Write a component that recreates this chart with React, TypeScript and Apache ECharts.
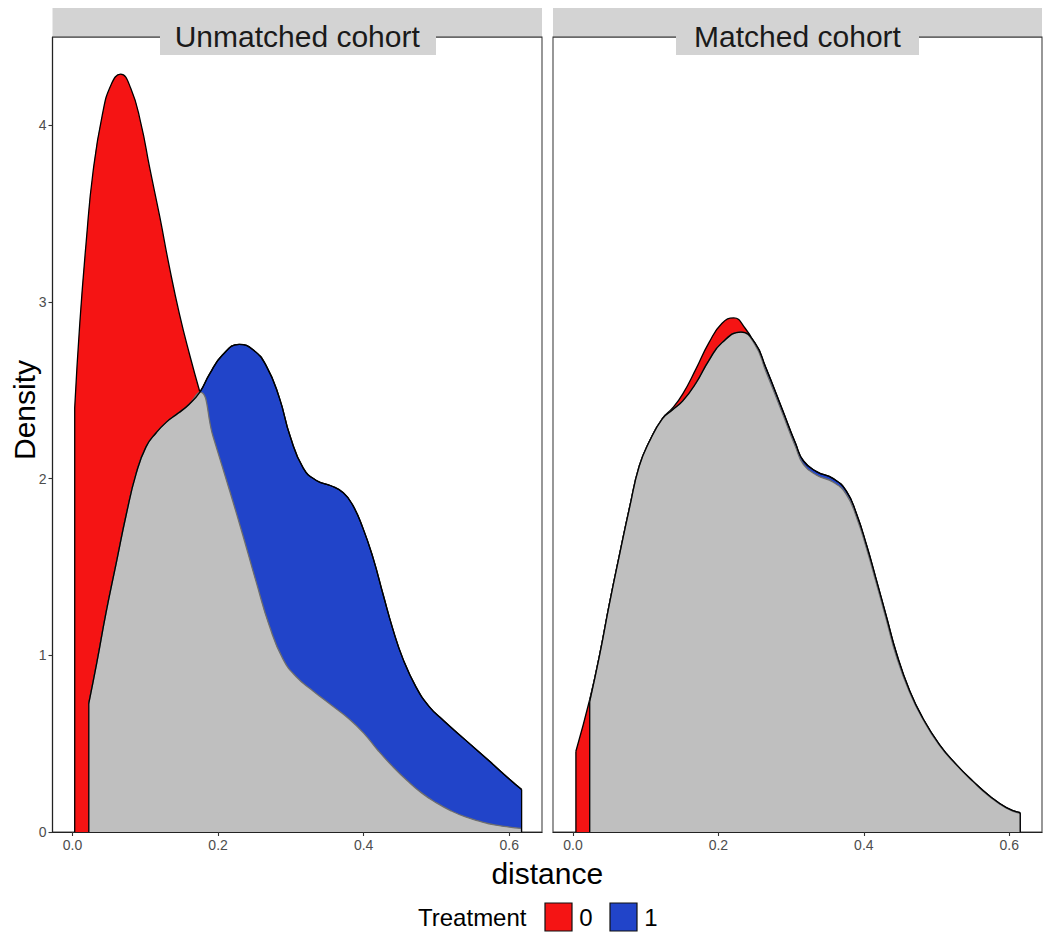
import React, { useEffect, useRef } from "react";
import * as echarts from "echarts";

// ---------- data ----------
const panelTitles = ["Unmatched cohort", "Matched cohort"];
const legendTitle = "Treatment";
const treatmentLevels = ["0", "1"];
const xTicks = [0, 0.2, 0.4, 0.6];
const yTicks = [0, 1, 2, 3, 4];
const xTitle = "distance";
const yTitle = "Density";

// density of distance, Unmatched cohort, Treatment = 0
const unmatchedT0: number[][] = [
  [0.003, 2.4], [0.01, 2.88], [0.019, 3.35], [0.028, 3.73], [0.041, 4.06],
  [0.053, 4.23], [0.066, 4.29], [0.08, 4.21], [0.094, 4.01], [0.106, 3.76],
  [0.12, 3.48], [0.133, 3.2], [0.147, 2.93], [0.161, 2.7], [0.175, 2.49],
  [0.193, 2.24], [0.216, 1.93], [0.234, 1.68], [0.252, 1.42], [0.271, 1.16],
  [0.289, 0.98], [0.307, 0.88], [0.33, 0.8], [0.355, 0.72], [0.38, 0.64],
  [0.4, 0.56], [0.42, 0.46], [0.44, 0.37], [0.46, 0.29], [0.48, 0.22],
  [0.5, 0.165], [0.52, 0.12], [0.54, 0.085], [0.56, 0.06], [0.58, 0.04],
  [0.6, 0.028], [0.616, 0.02],
];
// density of distance, Unmatched cohort, Treatment = 1
const unmatchedT1: number[][] = [
  [0.0224, 0.73], [0.033, 0.95], [0.046, 1.24], [0.06, 1.52], [0.074, 1.8],
  [0.0875, 2.03], [0.101, 2.18], [0.115, 2.26], [0.129, 2.32], [0.145, 2.37],
  [0.16, 2.42], [0.175, 2.49], [0.188, 2.59], [0.206, 2.7], [0.229, 2.76],
  [0.248, 2.73], [0.266, 2.64], [0.284, 2.46], [0.299, 2.24], [0.317, 2.06],
  [0.335, 1.99], [0.355, 1.96], [0.372, 1.92], [0.385, 1.85], [0.399, 1.72],
  [0.413, 1.55], [0.427, 1.34], [0.44, 1.15], [0.454, 0.98], [0.472, 0.82],
  [0.49, 0.71], [0.51, 0.63], [0.54, 0.52], [0.573, 0.4], [0.6, 0.3],
  [0.617, 0.24],
];
// density of distance, Matched cohort, Treatment = 0
const matchedT0: number[][] = [
  [0.004, 0.457], [0.023, 0.75], [0.0365, 1.0], [0.05, 1.29], [0.064, 1.57],
  [0.078, 1.84], [0.091, 2.06], [0.105, 2.21], [0.123, 2.34], [0.137, 2.4],
  [0.151, 2.48], [0.169, 2.62], [0.187, 2.77], [0.205, 2.88], [0.221, 2.91],
  [0.237, 2.85], [0.25, 2.76], [0.265, 2.61], [0.288, 2.37], [0.306, 2.18],
  [0.317, 2.08], [0.335, 2.02], [0.358, 1.98], [0.376, 1.91], [0.39, 1.78],
  [0.404, 1.6], [0.417, 1.41], [0.431, 1.2], [0.445, 0.99], [0.463, 0.79],
  [0.481, 0.64], [0.504, 0.49], [0.527, 0.38], [0.55, 0.285], [0.573, 0.2],
  [0.596, 0.135], [0.615, 0.105],
];
// density of distance, Matched cohort, Treatment = 1
const matchedT1: number[][] = [
  [0.023, 0.74], [0.0365, 1.0], [0.05, 1.29], [0.064, 1.57], [0.078, 1.84],
  [0.091, 2.07], [0.105, 2.21], [0.123, 2.34], [0.137, 2.39], [0.151, 2.44],
  [0.169, 2.54], [0.187, 2.67], [0.205, 2.77], [0.231, 2.83], [0.25, 2.77],
  [0.265, 2.63], [0.288, 2.39], [0.306, 2.2], [0.317, 2.1], [0.335, 2.04],
  [0.358, 2.0], [0.376, 1.93], [0.39, 1.8], [0.404, 1.62], [0.417, 1.43],
  [0.431, 1.22], [0.445, 1.01], [0.463, 0.8], [0.481, 0.645], [0.504, 0.495],
  [0.527, 0.383], [0.55, 0.288], [0.573, 0.204], [0.596, 0.138], [0.615, 0.109],
];
// x where the lower (overlapping) curve switches from Treatment 1 to Treatment 0
const overlapSwitch = [0.175, 0.247];

// ---------- styles ----------
const RED = "#F51414";
const BLUE = "#2144C9";
const GRAY = "#BFBFBF";
const STRIP = "#D3D3D3";
const FONT = "'Liberation Sans', Arial, Helvetica, sans-serif";
const X_MIN = -0.0275;
const X_MAX = 0.645;
const Y_MAX = 4.5;

const grids = [
  { left: 52.5, top: 37, width: 489.5, height: 795 },
  { left: 553, top: 37, width: 489, height: 795 },
];

function panelSeries(i: number, t0: number[][], t1: number[][], sw: number) {
  const overlap = [...t1.filter((p) => p[0] <= sw), ...t0.filter((p) => p[0] > sw)];
  const base: any = {
    type: "line",
    xAxisIndex: i,
    yAxisIndex: i,
    symbol: "none",
    smooth: 0.5,
    silent: true,
  };
  const edge = (p: number[], z: number): any => ({
    type: "line",
    xAxisIndex: i,
    yAxisIndex: i,
    symbol: "none",
    silent: true,
    data: [
      [p[0], 0],
      [p[0], p[1]],
    ],
    lineStyle: { color: "#000", width: 1.3 },
    z,
  });
  const first = (a: number[][]) => a[0];
  const last = (a: number[][]) => a[a.length - 1];
  return [
    { ...base, data: t0, lineStyle: { color: "#000", width: 1.3 }, areaStyle: { color: RED, opacity: 1 }, z: 2 },
    edge(first(t0), 3),
    edge(last(t0), 3),
    { ...base, data: t1, lineStyle: { color: "#000", width: 1.3 }, areaStyle: { color: BLUE, opacity: 1 }, z: 4 },
    { ...base, data: overlap, lineStyle: { color: "#6E6E6E", width: 1.3 }, areaStyle: { color: GRAY, opacity: 1 }, z: 5 },
    { ...base, data: t1, lineStyle: { color: "#000", width: 1.3 }, z: 6 },
    edge(first(t1), 7),
    edge(last(t1), 7),
  ];
}

export default function App() {
  const ref = useRef<HTMLDivElement>(null);
  useEffect(() => {
    if (!ref.current) return;
    const chart = echarts.init(ref.current, null, { renderer: "svg" });

    const xAxes = grids.map((_, i) => ({
      type: "value",
      gridIndex: i,
      min: X_MIN,
      max: X_MAX,
      axisLine: { show: true, onZero: false, lineStyle: { color: "#222", width: 1.2 } },
      axisTick: { show: true, length: 4, customValues: xTicks, lineStyle: { color: "#333", width: 1.1 } },
      axisLabel: {
        show: true,
        customValues: xTicks,
        formatter: (v: number) => v.toFixed(1),
        color: "#4D4D4D",
        fontSize: 14,
        fontFamily: FONT,
        margin: 6,
      },
      splitLine: { show: false },
    }));
    const yAxes = grids.map((_, i) => ({
      type: "value",
      gridIndex: i,
      min: 0,
      max: Y_MAX,
      axisLine: { show: i === 0, onZero: false, lineStyle: { color: "#222", width: 1.2 } },
      axisTick: { show: i === 0, length: 4, customValues: yTicks, lineStyle: { color: "#333", width: 1.1 } },
      axisLabel: {
        show: i === 0,
        customValues: yTicks,
        formatter: (v: number) => String(v),
        color: "#4D4D4D",
        fontSize: 14,
        fontFamily: FONT,
        margin: 6,
      },
      splitLine: { show: false },
    }));

    const stripBoxes = [
      { x: 160, w: 276 },
      { x: 676, w: 243 },
    ];

    const graphics: any[] = [];
    grids.forEach((g, i) => {
      graphics.push({
        type: "rect",
        z: 100,
        shape: { x: g.left, y: 8, width: g.width, height: g.top - 8 },
        style: { fill: STRIP },
      });
      graphics.push({
        type: "line",
        z: 101,
        shape: { x1: g.left, y1: g.top, x2: g.left + g.width, y2: g.top },
        style: { stroke: "#333", lineWidth: 1.2 },
      });
      graphics.push({
        type: "rect",
        z: 102,
        shape: { x: stripBoxes[i].x, y: 20, width: stripBoxes[i].w, height: 35 },
        style: { fill: STRIP },
      });
      graphics.push({
        type: "text",
        z: 103,
        x: g.left + g.width / 2,
        y: 36,
        style: {
          text: panelTitles[i],
          fill: "#1A1A1A",
          font: `30px ${FONT}`,
          textAlign: "center",
          textVerticalAlign: "middle",
        },
      });
    });
    // axis titles
    graphics.push({
      type: "text",
      z: 103,
      x: (grids[0].left + grids[1].left + grids[1].width) / 2,
      y: 873,
      style: { text: xTitle, fill: "#000", font: `30px ${FONT}`, textAlign: "center", textVerticalAlign: "middle" },
    });
    graphics.push({
      type: "text",
      z: 103,
      x: 24,
      y: 410,
      rotation: Math.PI / 2,
      style: { text: yTitle, fill: "#000", font: `30px ${FONT}`, textAlign: "center", textVerticalAlign: "middle" },
    });
    // legend
    graphics.push({
      type: "text",
      z: 103,
      x: 418,
      y: 917,
      style: { text: legendTitle, fill: "#000", font: `24px ${FONT}`, textAlign: "left", textVerticalAlign: "middle" },
    });
    const keyColors = [RED, BLUE];
    const keyX = [545, 610];
    treatmentLevels.forEach((lvl, k) => {
      graphics.push({
        type: "rect",
        z: 103,
        shape: { x: keyX[k], y: 903, width: 27, height: 28 },
        style: { fill: keyColors[k], stroke: "#111", lineWidth: 1.2 },
      });
      graphics.push({
        type: "text",
        z: 103,
        x: keyX[k] + 41,
        y: 917,
        style: { text: lvl, fill: "#000", font: `24px ${FONT}`, textAlign: "center", textVerticalAlign: "middle" },
      });
    });

    chart.setOption({
      animation: false,
      backgroundColor: "#FFFFFF",
      grid: grids.map((g) => ({
        ...g,
        show: true,
        borderColor: "#444",
        borderWidth: 1.1,
        backgroundColor: "#FFFFFF",
        containLabel: false,
      })),
      xAxis: xAxes,
      yAxis: yAxes,
      series: [
        ...panelSeries(0, unmatchedT0, unmatchedT1, overlapSwitch[0]),
        ...panelSeries(1, matchedT0, matchedT1, overlapSwitch[1]),
      ],
      graphic: graphics,
    });
    return () => chart.dispose();
  }, []);
  return (
    <div
      ref={ref}
      style={{ position: "absolute", left: 0, top: 0, width: 1050, height: 939 }}
    />
  );
}
